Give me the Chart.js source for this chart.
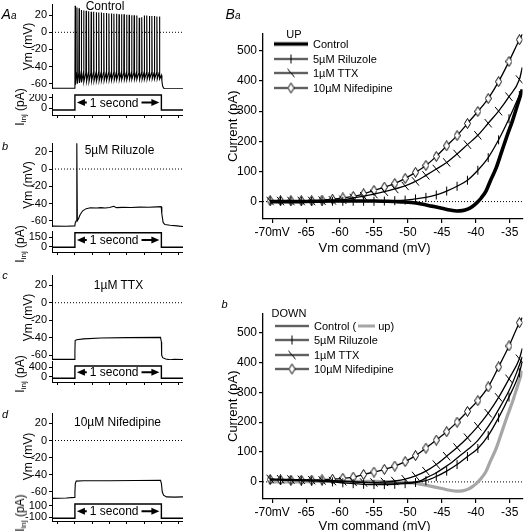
<!DOCTYPE html>
<html>
<head>
<meta charset="utf-8">
<script src="https://cdn.jsdelivr.net/npm/chart.js@4.4.1/dist/chart.umd.min.js"></script>
<style>
  html, body { margin: 0; padding: 0; background: #fff; }
  #fig { position: relative; width: 529px; height: 531px; overflow: hidden; font-family: "Liberation Sans", Arial, sans-serif; color: #000; }
  #fig canvas { position: absolute; }
  .t { position: absolute; transform: translate(-50%, -50%); white-space: nowrap; font-size: 12px; line-height: 1; }
  .it { font-style: italic; }
  .rot { transform: translate(-50%, -50%) rotate(-90deg); }
  .t sub { font-size: 8px; vertical-align: -2px; }
  .leg { position: absolute; font-size: 11px; line-height: 1; white-space: nowrap; display: flex; align-items: center; transform: translateY(-50%); }
  .leg canvas { position: static !important; margin-right: 5px; }
  .gline { display: inline-block; width: 17px; height: 3px; background: #a6a6a6; vertical-align: middle; margin: 0 3px 1px 2px; }
</style>
</head>
<body>
<div id="fig"></div>
<script>
const FONT = '"Liberation Sans", Arial, sans-serif';

// ---- A: current clamp traces (time in s, Vm in mV, Iinj in pA) ----
const timeTicks = [0, 0.2, 0.4, 0.6, 0.8, 1.0, 1.2, 1.4];
const vmTicks = [-60, -40, -20, 0, 20];
const timeRange = [-0.065, 1.45];

// control: repetitive firing during the 1 s step
const ctlSpikeT = [0.203, 0.224, 0.248, 0.274, 0.301, 0.330, 0.359, 0.388, 0.417, 0.447,
    0.476, 0.505, 0.534, 0.564, 0.593, 0.622, 0.651, 0.681, 0.710, 0.739,
    0.768, 0.798, 0.827, 0.856, 0.885, 0.914, 0.944, 0.973, 1.002, 1.031,
    1.061, 1.090, 1.119, 1.148, 1.178];
const ctlSpikePeak = [31, 29, 28, 26, 25.5, 25, 24.5, 24, 24, 23.5,
    23, 23, 22.5, 22.5, 22, 22, 21.5, 21.5, 21, 21,
    21, 20.5, 20.5, 20, 20, 19.5, 17, 17.5, 19.5, 19.5,
    19, 19, 19, 18.5, 18.5];
const ctlSpikeTrough = [-61, -60, -59, -58.5, -58, -57.5, -57.5, -57, -57, -57,
    -56.5, -56.5, -56.5, -56, -56, -56, -56, -55.5, -55.5, -55.5,
    -55.5, -55.5, -55, -55, -55, -55, -55, -55, -55, -55,
    -54.5, -54.5, -54.5, -54.5, -54.5];
const ctlThreshold = -47;
const ctlBefore = [[-0.065, -65.3], [0.1, -65.2], [0.198, -65.2], [0.2, -58]];
const ctlAfter = [[1.2, -50], [1.206, -57], [1.215, -63], [1.23, -65.5], [1.3, -66], [1.45, -66]];

const riluTrace = [[-0.065, -66.3], [0.1, -66.5], [0.199, -66], [0.205, -62], [0.215, -60], [0.222, 30],
    [0.228, -60], [0.24, -58], [0.26, -53], [0.29, -48.5], [0.33, -46], [0.38, -45], [0.45, -45.2],
    [0.5, -44.8], [0.55, -45.3], [0.6, -44.6], [0.65, -43.2], [0.68, -44.8], [0.75, -44.5], [0.85, -44.6],
    [0.95, -44.2], [1.05, -44.3], [1.15, -43.9], [1.198, -43.7], [1.205, -52], [1.22, -62], [1.24, -64.5],
    [1.3, -65.3], [1.38, -66], [1.45, -66.8]];
const ttxTrace = [[-0.065, -65], [0.1, -65], [0.198, -65], [0.2, -55], [0.203, -43.5], [0.22, -42.5],
    [0.3, -41.5], [0.5, -40.5], [0.8, -40], [1.19, -39.8], [1.2, -45], [1.203, -60], [1.215, -63],
    [1.25, -64.5], [1.3, -65.5], [1.35, -65], [1.45, -65.3]];
const nifTrace = [[-0.065, -67.7], [0.1, -67.3], [0.198, -66.5], [0.2, -60], [0.205, -50], [0.215, -47.5],
    [0.3, -47], [0.6, -47], [0.9, -46.8], [1.19, -46.5], [1.2, -50], [1.21, -60], [1.225, -64],
    [1.26, -66], [1.35, -66.2], [1.45, -66]];

// injected current steps
const stepT = [-0.065, 0.2, 0.2, 1.2, 1.2, 1.45];
const ctlInj = [-32, -32, 251, 251, -32, -32];
const riluInj = [-10, -10, 224, 224, -10, -10];
const ttxInj = [-68, -68, 455, 455, -68, -68];
const nifInj = [-118, -118, 135, 135, -118, -118];
const ctlInjTicks = [0, 200];
const riluInjTicks = [0, 150];
const ttxInjTicks = [0, 400];
const nifInjTicks = [-100, 100];

// ---- B: ramp I-V curves (Vm command in mV, current in pA) ----
// last sample is the end of the ramp trace (no marker)
const vmCmd = [-70.3, -68.77, -67.24, -65.71, -64.18, -62.65, -61.12, -59.59, -58.06, -56.53,
    -55.0, -53.47, -51.94, -50.41, -48.88, -47.35, -45.82, -44.29, -42.76, -41.23,
    -39.7, -38.17, -36.64, -35.11, -33.58, -33.15];
const ivXTicks = [-70, -65, -60, -55, -50, -45, -40, -35];
const ivXLabels = ['-70mV', '-65', '-60', '-55', '-50', '-45', '-40', '-35'];
const ivYTicks = [0, 100, 200, 300, 400, 500];

const upCtlV = [-70.3, -67, -64, -61, -58, -55, -53, -51, -49.5, -48, -46.5, -45, -43.8, -42.8, -42,
    -41.2, -40.5, -39.9, -39.2, -38.5, -37.8, -37, -36.2, -35.4, -34.6, -33.9, -33.15];
const upCtlI = [0, 0, 1, 2, 2, 2, 1, -1, -3, -8, -15, -22, -28, -31, -30,
    -25, -16, -5, 12, 35, 72, 112, 165, 218, 268, 318, 372];
const upRilu = [2, 2, 1, 1, 1, 1, 1, 1, 1, 1, 1, 2, 3, 5, 9, 14, 22, 35, 51, 71, 104, 146, 205, 275, 352, 372];
const upTtx = [2, 2, 2, 2, 2, 3, 4, 6, 12, 18, 25, 33, 42, 52, 67, 87, 108, 130, 158, 189, 220, 260, 300, 348, 405, 445];
const upNif = [3, 3, 3, 3, 3, 5, 8, 12, 17, 26, 37, 48, 60, 77, 97, 120, 150, 185, 219, 259, 299, 342, 398, 465, 537, 555];

const dnCtlV = [-70.3, -67, -64, -61, -58, -55, -52, -49.5, -48, -47.2, -46, -44.7, -43.5, -42.2, -41,
    -39.9, -38.8, -37.6, -36.4, -35.1, -34, -33.15];
const dnCtlI = [8, 7, 6, 4, 1, -3, -4, -2, 5, 15, 28, 47, 66, 90, 112, 134, 165, 205, 252, 306, 365, 419];
const dnRilu = [7, 6, 5, 4, 3, 2, 0, -3, -6, -8, -9, -9, -8, -6, -2, 4, 18, 36, 58, 85, 112, 155, 215, 284, 365, 403];
const dnTtx = [10, 9, 8, 7, 6, 5, 3, 2, 0, -2, -2, 0, 3, 9, 20, 36, 58, 86, 115, 148, 186, 230, 283, 345, 412, 447];
const dnNif = [8, 7, 6, 6, 6, 7, 9, 12, 16, 25, 33, 42, 53, 68, 88, 113, 140, 168, 200, 236, 272, 318, 385, 455, 533, 550];

// ---------------------------------------------------------------
const fig = document.getElementById('fig');

function makeCanvas(left, top, w, h) {
    const c = document.createElement('canvas');
    c.width = w; c.height = h;
    c.style.left = left + 'px';
    c.style.top = top + 'px';
    fig.appendChild(c);
    return c;
}

function addText(html, x, y, cls, size) {
    const d = document.createElement('div');
    d.className = 't ' + (cls || '');
    d.style.left = x + 'px';
    d.style.top = y + 'px';
    if (size) d.style.fontSize = size + 'px';
    d.innerHTML = html;
    fig.appendChild(d);
}

const toPts = (xs, ys) => xs.map((x, i) => ({ x: x, y: ys[i] }));
const pairPts = arr => arr.map(p => ({ x: p[0], y: p[1] }));
const fixedTicks = vals => axis => { axis.ticks = vals.map(v => ({ value: v })); };
const fixWidth = w => s => { s.width = w; s.paddingTop = 0; s.paddingBottom = 0; };
const fixHeight = h => s => { s.height = h; s.paddingLeft = 0; s.paddingRight = 0; };

function controlTrace() {
    const pts = pairPts(ctlBefore);
    ctlSpikeT.forEach((t, i) => {
        pts.push({ x: t - 0.003, y: ctlThreshold });
        pts.push({ x: t, y: ctlSpikePeak[i] });
        pts.push({ x: t + 0.004, y: ctlSpikeTrough[i] });
    });
    return pts.concat(pairPts(ctlAfter));
}

// "<- 1 second ->" marker inside the current step
const secondArrow = {
    id: 'secondArrow',
    afterDatasetsDraw(chart, args, opts) {
        if (!opts.text) return;
        const { ctx, scales: { x, y } } = chart;
        const x0 = x.getPixelForValue(opts.from);
        const x1 = x.getPixelForValue(opts.to);
        const yc = y.getPixelForValue((opts.low + opts.high) / 2);
        ctx.save();
        ctx.font = '12px ' + FONT;
        ctx.fillStyle = '#000';
        ctx.strokeStyle = '#000';
        ctx.textAlign = 'center';
        ctx.textBaseline = 'middle';
        const xm = (x0 + x1) / 2 - 4;
        const tw = ctx.measureText(opts.text).width;
        ctx.fillText(opts.text, xm, yc + 1);
        ctx.lineWidth = 2;
        ctx.beginPath();
        ctx.moveTo(x0 + 8, yc); ctx.lineTo(xm - tw / 2 - 3, yc);
        ctx.moveTo(xm + tw / 2 + 3, yc); ctx.lineTo(x1 - 8, yc);
        ctx.stroke();
        ctx.beginPath();
        ctx.moveTo(x0 + 2, yc); ctx.lineTo(x0 + 10, yc - 3.5); ctx.lineTo(x0 + 10, yc + 3.5); ctx.closePath();
        ctx.moveTo(x1 - 2, yc); ctx.lineTo(x1 - 10, yc - 3.5); ctx.lineTo(x1 - 10, yc + 3.5); ctx.closePath();
        ctx.fill();
        ctx.restore();
    }
};

const baseOpts = {
    responsive: false,
    animation: false,
    events: [],
    layout: { padding: 0 }
};

function vmChart(p) {
    const c = makeCanvas(17, p.vmTop, 166, p.vmHeight);
    new Chart(c, {
        type: 'line',
        data: {
            datasets: [
                { data: p.trace, borderColor: '#000', borderWidth: 1.1, pointRadius: 0, tension: 0 },
                { data: [{ x: timeRange[0], y: 0 }, { x: timeRange[1], y: 0 }], borderColor: '#000',
                  borderWidth: 1, borderDash: [1, 2], pointRadius: 0 }
            ]
        },
        options: Object.assign({}, baseOpts, {
            plugins: { legend: { display: false }, tooltip: { enabled: false } },
            scales: {
                x: { type: 'linear', display: false, min: timeRange[0], max: timeRange[1] },
                y: {
                    min: p.vmRange[0], max: p.vmRange[1],
                    afterBuildTicks: fixedTicks(vmTicks),
                    afterFit: fixWidth(35),
                    grid: { drawOnChartArea: false, tickLength: 3, color: '#000' },
                    border: { color: '#000', width: 1 },
                    ticks: { color: '#000', padding: 2, autoSkip: false, font: { family: FONT, size: 11 } },
                    title: { display: true, text: 'Vm (mV)', color: '#000', padding: { top: 4, bottom: 0 },
                             font: { family: FONT, size: 12 } }
                }
            }
        })
    });
}

function injChart(p) {
    const c = makeCanvas(17, p.injTop, 166, 25);
    new Chart(c, {
        type: 'line',
        data: {
            datasets: [{ data: toPts(stepT, p.inj), borderColor: '#000', borderWidth: 1.4, pointRadius: 0, tension: 0 }]
        },
        options: Object.assign({}, baseOpts, {
            plugins: {
                legend: { display: false }, tooltip: { enabled: false },
                secondArrow: { text: '1 second', from: 0.2, to: 1.2, low: p.inj[0], high: p.inj[2] }
            },
            scales: {
                x: {
                    type: 'linear', min: timeRange[0], max: timeRange[1],
                    afterBuildTicks: fixedTicks(timeTicks),
                    afterFit: fixHeight(4),
                    grid: { drawOnChartArea: false, tickLength: 3, color: '#000' },
                    border: { color: '#000', width: 1 },
                    ticks: { display: false, autoSkip: false }
                },
                y: {
                    min: p.injRange[0], max: p.injRange[1],
                    afterBuildTicks: fixedTicks(p.injTicks),
                    afterFit: fixWidth(35),
                    grid: { drawOnChartArea: false, tickLength: 3, color: '#000' },
                    border: { color: '#000', width: 1 },
                    ticks: { color: '#000', padding: 2, autoSkip: false, font: { family: FONT, size: 11 } }
                }
            }
        }),
        plugins: [secondArrow]
    });
}

const tracePanels = [
    { trace: controlTrace(), vmTop: 4, vmHeight: 85, vmRange: [-66.1, 33],
      inj: ctlInj, injTop: 94, injRange: [-127, 270], injTicks: ctlInjTicks },
    { trace: pairPts(riluTrace), vmTop: 143, vmHeight: 84, vmRange: [-67.3, 30.2],
      inj: riluInj, injTop: 231, injRange: [-85, 251], injTicks: riluInjTicks },
    { trace: pairPts(ttxTrace), vmTop: 275, vmHeight: 85, vmRange: [-65.7, 31.8],
      inj: ttxInj, injTop: 361, injRange: [-225, 668], injTicks: ttxInjTicks },
    { trace: pairPts(nifTrace), vmTop: 413, vmHeight: 87, vmRange: [-69.6, 32.2],
      inj: nifInj, injTop: 500, injRange: [-165.5, 206], injTicks: nifInjTicks }
];

tracePanels.forEach(p => {
    vmChart(p);
    injChart(p);
    addText('I<sub>inj</sub> (pA)', 21, p.injTop + 12.5, 'rot');
});

// ---- marker symbols ----
function diamondImage() {
    const c = document.createElement('canvas');
    c.width = 7; c.height = 11;
    const g = c.getContext('2d');
    g.beginPath();
    g.moveTo(3.5, 0.5); g.lineTo(6.5, 5.5); g.lineTo(3.5, 10.5); g.lineTo(0.5, 5.5); g.closePath();
    g.fillStyle = '#fff'; g.fill();
    g.strokeStyle = '#000'; g.lineWidth = 1; g.stroke();
    return c;
}
const diamond = diamondImage();

function legendSample(kind) {
    const c = document.createElement('canvas');
    c.width = 34; c.height = 13;
    const g = c.getContext('2d');
    g.strokeStyle = '#000';
    g.lineWidth = kind === 'thick' ? 3.5 : 1.3;
    g.beginPath(); g.moveTo(0, 6.5); g.lineTo(34, 6.5); g.stroke();
    g.lineWidth = 1;
    if (kind === 'vtick') {
        g.beginPath(); g.moveTo(17, 2); g.lineTo(17, 11); g.stroke();
    } else if (kind === 'slant') {
        g.beginPath(); g.moveTo(13.5, 2.3); g.lineTo(20.5, 10.7); g.stroke();
    } else if (kind === 'diamond') {
        g.drawImage(diamond, 13.5, 1);
    }
    return c;
}

function addLegend(x, title, titleX, titleY, rows) {
    addText(title, titleX, titleY, '', 11);
    rows.forEach(r => {
        const d = document.createElement('div');
        d.className = 'leg';
        d.style.left = x + 'px';
        d.style.top = r.y + 'px';
        d.appendChild(legendSample(r.kind));
        const s = document.createElement('span');
        s.innerHTML = r.text;
        d.appendChild(s);
        fig.appendChild(d);
    });
}

const markerRadius = r => ctx => (ctx.dataIndex < vmCmd.length - 1 ? r : 0);

function seriesSet(rilu, ttx, nif) {
    return [
        { data: toPts(vmCmd, rilu), borderColor: '#000', borderWidth: 1.3, cubicInterpolationMode: 'monotone',
          pointStyle: 'line', pointRotation: 90, pointRadius: markerRadius(4.5), pointBorderColor: '#000', pointBorderWidth: 1 },
        { data: toPts(vmCmd, ttx), borderColor: '#000', borderWidth: 1.3, cubicInterpolationMode: 'monotone',
          pointStyle: 'line', pointRotation: 50, pointRadius: markerRadius(5.5), pointBorderColor: '#000', pointBorderWidth: 1 },
        { data: toPts(vmCmd, nif), borderColor: '#000', borderWidth: 1.3, cubicInterpolationMode: 'monotone',
          pointStyle: diamond, pointRadius: markerRadius(4) }
    ];
}

function ivChart(top, lines, yRange) {
    const c = makeCanvas(222, top, 307, 214);
    const zero = { data: [{ x: -71.35, y: 0 }, { x: -33.12, y: 0 }], borderColor: '#000', borderWidth: 1,
                   borderDash: [1, 2], pointRadius: 0 };
    new Chart(c, {
        type: 'line',
        data: { datasets: lines.concat([zero]) },
        options: Object.assign({}, baseOpts, {
            layout: { padding: { right: 2 } },
            plugins: { legend: { display: false }, tooltip: { enabled: false } },
            scales: {
                x: {
                    type: 'linear', min: -71.35, max: -33.12,
                    afterBuildTicks: fixedTicks(ivXTicks),
                    afterFit: fixHeight(22),
                    grid: { drawOnChartArea: false, tickLength: 4, color: '#000', lineWidth: 1.2 },
                    border: { color: '#000', width: 1.3 },
                    ticks: { color: '#000', padding: 2, maxRotation: 0, autoSkip: false, font: { family: FONT, size: 12 },
                             callback: (v, i) => ivXLabels[i] }
                },
                y: {
                    min: yRange[0], max: yRange[1],
                    afterBuildTicks: fixedTicks(ivYTicks),
                    afterFit: fixWidth(41),
                    grid: { drawOnChartArea: false, tickLength: 4, color: '#000', lineWidth: 1.2 },
                    border: { color: '#000', width: 1.3 },
                    ticks: { color: '#000', padding: 2, autoSkip: false, font: { family: FONT, size: 12 } },
                    title: { display: true, text: 'Current (pA)', color: '#000', padding: { top: 4, bottom: 0 },
                             font: { family: FONT, size: 13 } }
                }
            }
        })
    });
}

// Ba: UP ramp
ivChart(27, [
    { data: toPts(upCtlV, upCtlI), borderColor: '#000', borderWidth: 3.6, pointRadius: 0, cubicInterpolationMode: 'monotone' }
].concat(seriesSet(upRilu, upTtx, upNif)), [-57.7, 557.7]);

// b: DOWN ramp, with control UP in grey
ivChart(307, [
    { data: toPts(dnCtlV, dnCtlI), borderColor: '#000', borderWidth: 1.3, pointRadius: 0, cubicInterpolationMode: 'monotone' }
].concat(seriesSet(dnRilu, dnTtx, dnNif)).concat([
    { data: toPts(upCtlV, upCtlI), borderColor: '#a6a6a6', borderWidth: 3.2, pointRadius: 0, cubicInterpolationMode: 'monotone' }
]), [-57.2, 563.7]);

addText('Vm command (mV)', 374.5, 247, '', 13);
addText('Vm command (mV)', 374.5, 525, '', 13);

addLegend(274, 'UP', 294, 34, [
    { kind: 'thick', text: 'Control', y: 44 },
    { kind: 'vtick', text: '5µM Riluzole', y: 58.7 },
    { kind: 'slant', text: '1µM TTX', y: 73.3 },
    { kind: 'diamond', text: '10µM Nifedipine', y: 88.3 }
]);
addLegend(275, 'DOWN', 289, 313.3, [
    { kind: 'plain', text: 'Control (<span class="gline"></span>up)', y: 325.7 },
    { kind: 'vtick', text: '5µM Riluzole', y: 340 },
    { kind: 'slant', text: '1µM TTX', y: 355 },
    { kind: 'diamond', text: '10µM Nifedipine', y: 369.3 }
]);

// panel letters and condition labels
addText('A<span style="font-size:10px">a</span>', 9, 14, 'it', 14);
addText('b', 5, 145.5, 'it', 11);
addText('c', 5, 275, 'it', 11);
addText('d', 5, 413.5, 'it', 11);
addText('B<span style="font-size:10px">a</span>', 233, 14, 'it', 14);
addText('b', 224.5, 303.5, 'it', 11);
addText('Control', 105, 6);
addText('5µM Riluzole', 119.5, 150);
addText('1µM TTX', 118.5, 285);
addText('10µM Nifedipine', 117.5, 422.3);
</script>
</body>
</html>
